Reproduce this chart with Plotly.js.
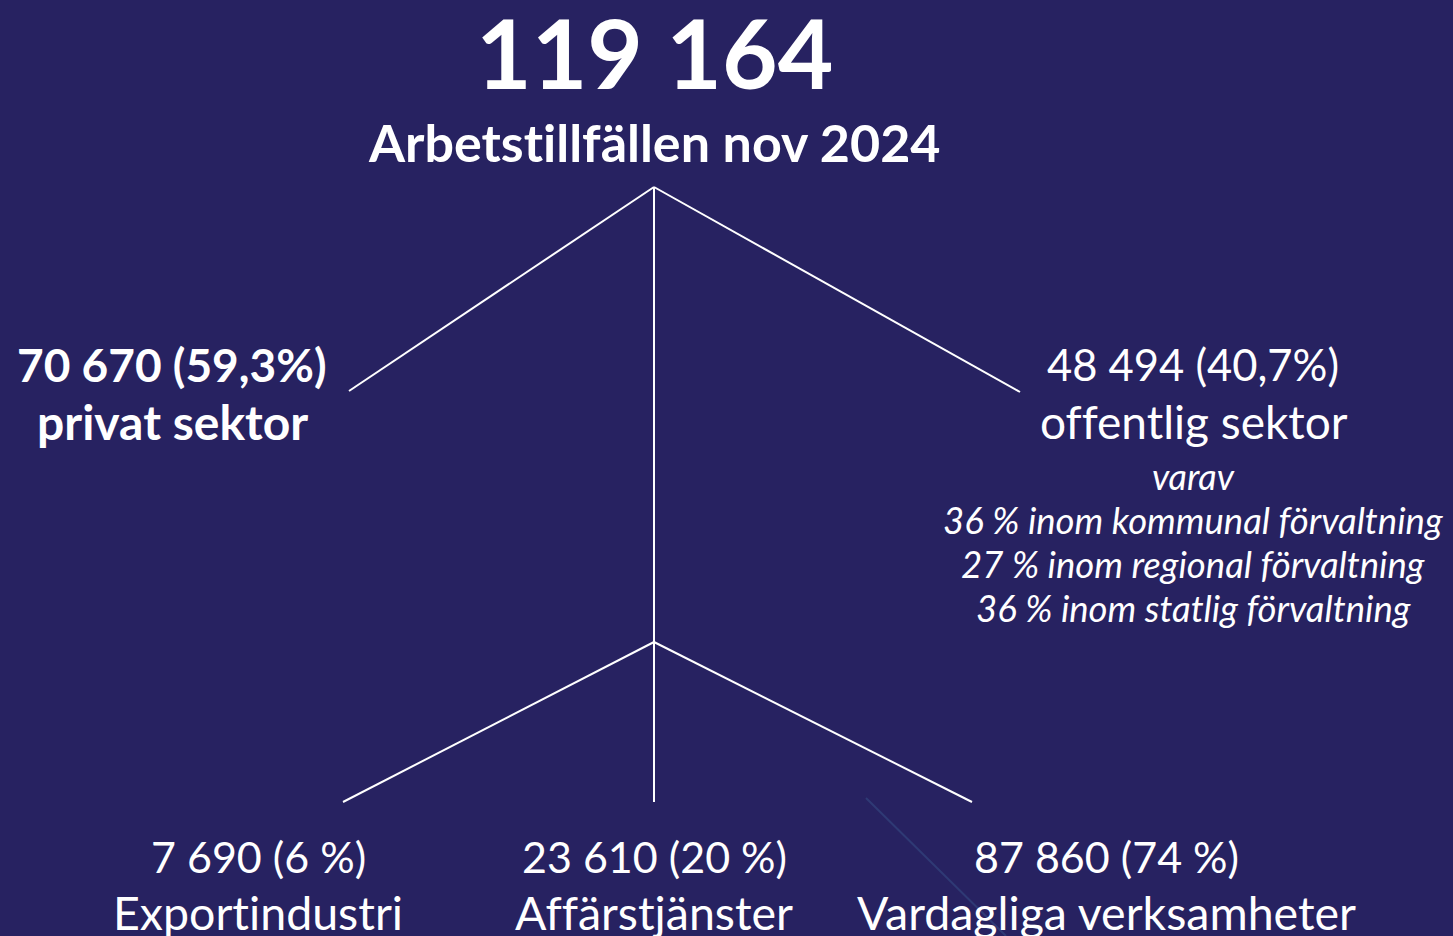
<!DOCTYPE html>
<html>
<head>
<meta charset="utf-8">
<script src="https://cdn.plot.ly/plotly-3.0.1.min.js"></script>
<style>html,body{margin:0;padding:0;background:#272261;overflow:hidden}#chart{width:1453px;height:936px}
svg text{font-variant-ligatures:none;font-feature-settings:"liga" 0,"clig" 0;}</style>
</head>
<body>
<div id="chart"></div>
<script>
// ---- Data ----
const totalJobs = 119164;
const totalLabel = "Arbetstillfällen nov 2024";
const sectorNames = ["privat sektor", "offentlig sektor"];
const sectorValues = [70670, 48494];
const sectorShares = ["59,3", "40,7"];
const publicSubIntro = "varav";
const publicSubShares = [36, 27, 36];
const publicSubNames = ["kommunal förvaltning", "regional förvaltning", "statlig förvaltning"];
const privateCats = ["Exportindustri", "Affärstjänster", "Vardagliga verksamheter"];
const privateValues = [7690, 23610, 87860];
const privateShares = [6, 20, 74];

function fmt(n){ return String(n).replace(/\B(?=(\d{3})+(?!\d))/g, " "); }

// ---- Layout geometry (positions in pixel space) ----
const FONT = "Lato, 'Noto Sans', sans-serif";
const W = 1453, H = 936;
const white = "#ffffff";

const treeLines = [
  [[654,187],[349,391]],
  [[654,187],[1020,392]],
  [[654,187],[654,802]],
  [[654,642],[343,802]],
  [[654,642],[972,802]]
];

const traces = treeLines.map(seg => ({
  type: "scatter", mode: "lines",
  x: [seg[0][0], seg[1][0]], y: [seg[0][1], seg[1][1]],
  line: {color: white, width: 2}, hoverinfo: "skip", showlegend: false
}));
traces.push({
  type: "scatter", mode: "lines", x: [866, 1006], y: [798, 936],
  line: {color: "#2f3a75", width: 2}, hoverinfo: "skip", showlegend: false
});

function ann(text, x, y, size, opts){
  return Object.assign({
    text: text, x: x, y: y, xref: "x", yref: "y", showarrow: false,
    xanchor: "center", yanchor: "middle",
    font: {family: FONT, size: size, color: white}
  }, opts || {});
}

const annotations = [
  ann("<b>" + fmt(totalJobs) + "</b>", 654, 51, 96),
  ann("<b>" + totalLabel + "</b>", 654, 142, 52),
  ann("<b>" + fmt(sectorValues[0]) + " (" + sectorShares[0] + "%)</b>", 172, 364, 46),
  ann("<b>" + sectorNames[0] + "</b>", 172, 421, 48),
  ann(fmt(sectorValues[1]) + " (" + sectorShares[1] + "%)", 1193, 364, 43.5),
  ann(sectorNames[1], 1194, 421, 46),
  ann("<i>" + publicSubIntro + "</i>", 1193, 476, 36),
];
publicSubShares.forEach((s, i) => {
  annotations.push(ann("<i>" + s + " % inom " + publicSubNames[i] + "</i>", 1193, 520 + i*44, 36.5));
});
const bottomX = [258, 654, 1106];
privateCats.forEach((c, i) => {
  annotations.push(ann(fmt(privateValues[i]) + " (" + privateShares[i] + " %)", bottomX[i], 856, 43));
  annotations.push(ann(c, bottomX[i], 912, 46.5));
});

const layout = {
  width: W, height: H,
  paper_bgcolor: "#272261", plot_bgcolor: "#272261",
  margin: {l:0, r:0, t:0, b:0},
  xaxis: {range: [0, W], visible: false, fixedrange: true},
  yaxis: {range: [H, 0], visible: false, fixedrange: true},
  annotations: annotations,
  showlegend: false
};

Plotly.newPlot("chart", traces, layout, {staticPlot: true, displayModeBar: false});
</script>
</body>
</html>
